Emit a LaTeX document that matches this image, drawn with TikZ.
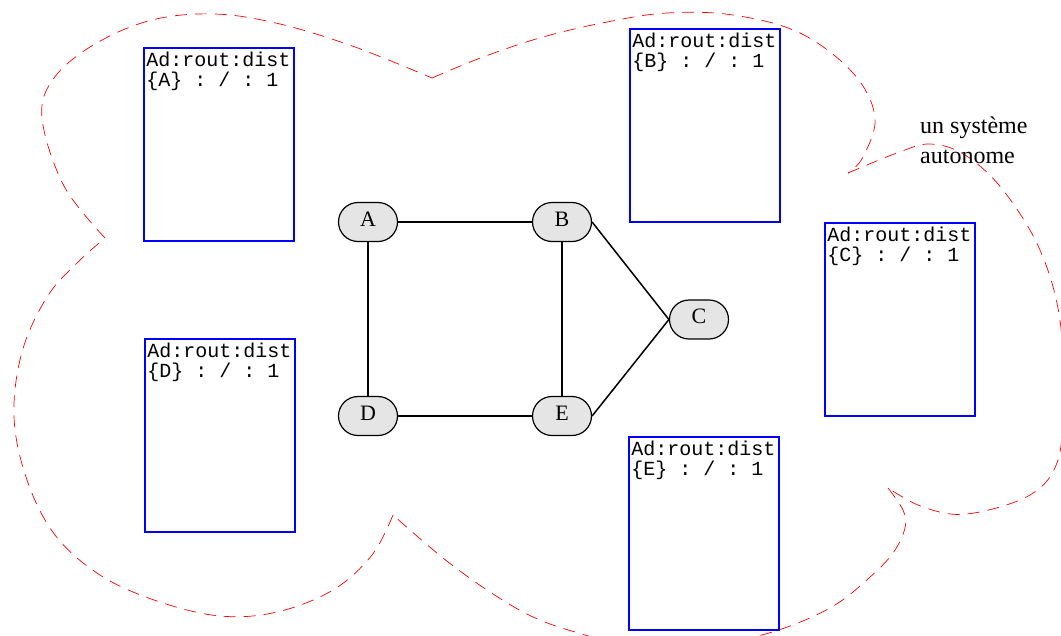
\documentclass[tikz,border=0pt]{standalone}
\usepackage{fontspec}
\setmainfont{Liberation Serif}
\setmonofont{Liberation Mono}
\begin{document}
\begin{tikzpicture}[x=1pt,y=-1pt,
  router/.style={draw=black, line width=1.2pt, fill=gray!20, rectangle,
    rounded corners=19.5pt, minimum width=59pt, minimum height=39pt,
    inner sep=0pt, text height=15pt, text depth=7pt,
    font=\fontsize{22}{26}\selectfont},
  tbl/.style={draw=blue, line width=1.6pt, minimum width=150pt,
    minimum height=193pt, inner sep=0pt},
  tbltext/.style={anchor=north west, inner sep=0pt, align=left,
    font=\ttfamily\fontsize{20}{19.5}\selectfont},
  link/.style={line width=1.5pt},
  cloudline/.style={draw=red, line width=0.7pt, dash pattern=on 12pt off 8pt},
  lbl/.style={anchor=north west, inner sep=0pt, align=left,
    font=\fontsize{24}{30}\selectfont}
]
\useasboundingbox (0,0) rectangle (1061,635);
\clip (0,0) rectangle (1061,635);

% cloud
\draw[cloudline] plot[smooth, tension=0.6] coordinates {(105,238) (64,186) (42,118) (54,78) (95,44) (152,20) (215,14) (280,24) (355,47) (432,78)};
\draw[cloudline] plot[smooth, tension=0.6] coordinates {(432,78) (483,57) (543,37) (607,22) (667,13) (733,15) (800,33) (853,73) (875,117) (863,157) (848,173)};
\draw[cloudline] plot[smooth, tension=0.6] coordinates {(848,173) (897,153) (930,144) (965,155) (1003,190) (1040,250) (1060,320) (1062,400) (1058,460) (1030,495) (967,514) (923,507) (888,488)};
\draw[cloudline] plot[smooth, tension=0.6] coordinates {(888,488) (903,510) (905,528) (893,553) (869,578) (835,605) (790,626) (740,640) (680,647) (620,643) (575,632) (533,617) (490,592) (443,558) (393,515)};
\draw[cloudline] plot[smooth, tension=0.6] coordinates {(393,515) (372,555) (333,590) (277,612) (220,616) (157,601) (100,575) (55,535) (27,480) (14,417) (22,352) (47,297) (77,263) (105,238)};

% tables
\node[tbl] (tA) at (219,144.5) {};
\node[tbl] (tB) at (705,125.5) {};
\node[tbl] (tC) at (900,319.5) {};
\node[tbl] (tD) at (220,435.5) {};
\node[tbl] (tE) at (704,533.5) {};
\node[tbltext] (tAt) at ([shift={(3,5)}]tA.north west) {Ad:rout:dist\\\{A\} : / : 1};
\node[tbltext] (tBt) at ([shift={(3,5)}]tB.north west) {Ad:rout:dist\\\{B\} : / : 1};
\node[tbltext] (tCt) at ([shift={(3,5)}]tC.north west) {Ad:rout:dist\\\{C\} : / : 1};
\node[tbltext] (tDt) at ([shift={(3,5)}]tD.north west) {Ad:rout:dist\\\{D\} : / : 1};
\node[tbltext] (tEt) at ([shift={(3,5)}]tE.north west) {Ad:rout:dist\\\{E\} : / : 1};

% label
\node[lbl] (sys) at (920,117) {un système\\autonome};

% routers
\node[router] (A) at (368,222) {A};
\node[router] (B) at (562,222) {B};
\node[router] (C) at (699,319.5) {C};
\node[router] (D) at (368,416) {D};
\node[router] (E) at (562,416) {E};

\draw[link] (A) -- (B);
\draw[link] (A) -- (D);
\draw[link] (B) -- (E);
\draw[link] (D) -- (E);
\draw[link] (B.east) -- (C.west);
\draw[link] (E.east) -- (C.west);
\end{tikzpicture}
\end{document}
